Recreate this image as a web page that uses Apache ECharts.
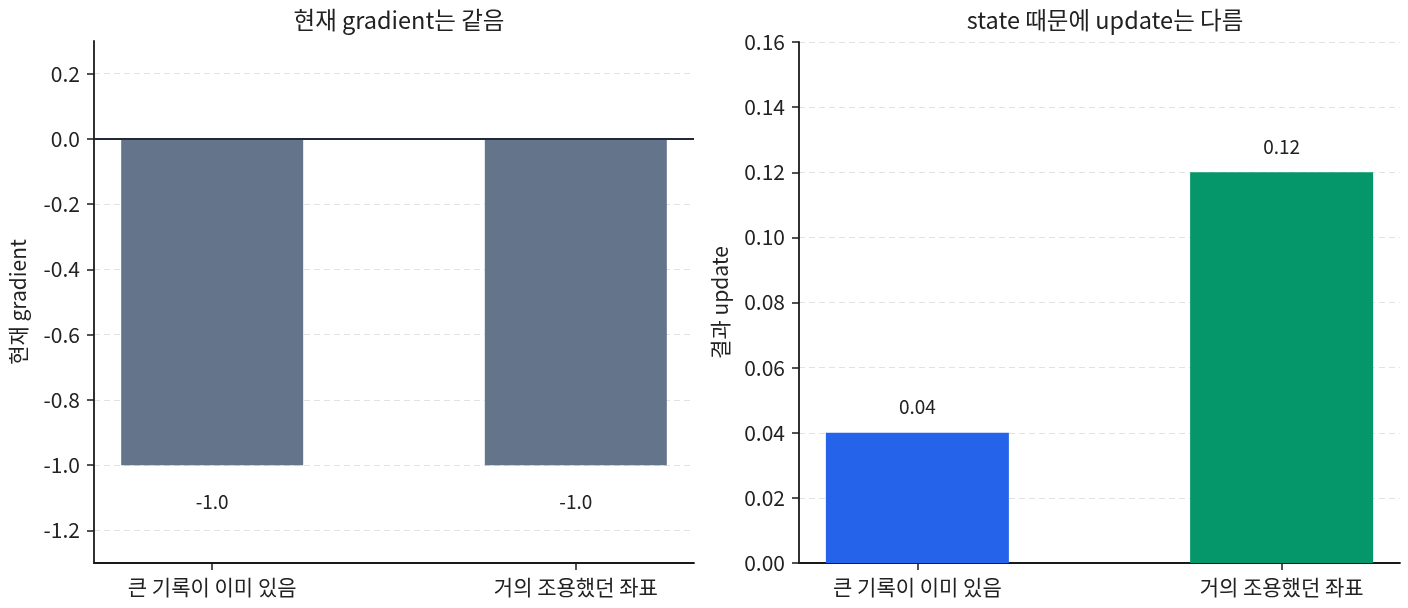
<!DOCTYPE html>
<html>
<head>
<meta charset="utf-8">
<script src="https://cdn.jsdelivr.net/npm/echarts@6/dist/echarts.min.js"></script>
<style>
  html, body { margin: 0; padding: 0; background: #fff; }
  #main { width: 1408px; height: 608px; }
</style>
</head>
<body>
<div id="main"></div>
<script>
const categories = ['큰 기록이 이미 있음', '거의 조용했던 좌표']
const gradientValues = [-1.0, -1.0]
const updateValues = [0.04, 0.12]
const gradientTicks = [-1.2, -1.0, -0.8, -0.6, -0.4, -0.2, 0.0, 0.2]
const barColors = ['#2563eb', '#059669']

const font = 'Noto Sans CJK KR'
const axisColor = '#1a1a1a'
const catPositions = categories.map(function (c, i) { return i })

const myChart = echarts.init(document.getElementById('main'))

// x axis is numeric so the category spacing matches the reference margins
const xAxisBase = function (gridIndex) {
    return {
        type: 'value',
        gridIndex: gridIndex,
        min: -0.325,
        max: 1.325,
        axisLine: { onZero: false, lineStyle: { color: axisColor, width: 1.8 } },
        axisTick: { show: true, length: 7, customValues: catPositions, lineStyle: { color: axisColor, width: 1.5 } },
        axisLabel: {
            customValues: catPositions,
            color: '#222', fontSize: 21, fontFamily: font, margin: 14,
            formatter: function (v) { return categories[Math.round(v)] }
        },
        splitLine: { show: false }
    }
}

const splitLineStyle = { show: true, lineStyle: { color: '#e2e2e2', type: [6, 4], width: 1 } }

const toPoints = function (values) {
    return values.map(function (v, i) { return [i, v] })
}

myChart.setOption({
    animation: false,
    textStyle: { fontFamily: font },
    title: [
        { text: '현재 gradient는 같음', left: 394, top: 3, textAlign: 'center',
          textStyle: { fontSize: 23.5, fontWeight: 'normal', color: '#222', fontFamily: font } },
        { text: 'state 때문에 update는 다름', left: 1100, top: 3, textAlign: 'center',
          textStyle: { fontSize: 23.5, fontWeight: 'normal', color: '#222', fontFamily: font } }
    ],
    grid: [
        { left: 94, top: 41, width: 600, height: 522 },
        { left: 799, top: 42, width: 601, height: 521 }
    ],
    xAxis: [xAxisBase(0), xAxisBase(1)],
    yAxis: [
        {
            type: 'value',
            gridIndex: 0,
            min: -1.3,
            max: 0.3,
            name: '현재 gradient',
            nameLocation: 'middle',
            nameGap: 65,
            nameTextStyle: { fontSize: 21, color: '#222', fontFamily: font },
            axisLine: { show: true, onZero: false, lineStyle: { color: axisColor, width: 1.8 } },
            axisTick: { show: true, length: 7, customValues: gradientTicks, lineStyle: { color: axisColor, width: 1.5 } },
            axisLabel: {
                customValues: gradientTicks,
                color: '#222', fontSize: 21, fontFamily: font, margin: 14,
                formatter: function (v) { return v.toFixed(1) }
            },
            splitLine: splitLineStyle
        },
        {
            type: 'value',
            gridIndex: 1,
            min: 0,
            max: 0.16,
            interval: 0.02,
            name: '결과 update',
            nameLocation: 'middle',
            nameGap: 68,
            nameTextStyle: { fontSize: 21, color: '#222', fontFamily: font },
            axisLine: { show: true, onZero: false, lineStyle: { color: axisColor, width: 1.8 } },
            axisTick: { show: true, length: 7, lineStyle: { color: axisColor, width: 1.5 } },
            axisLabel: {
                color: '#222', fontSize: 21, fontFamily: font, margin: 14,
                formatter: function (v) { return v.toFixed(2) }
            },
            splitLine: splitLineStyle
        }
    ],
    series: [
        {
            type: 'bar',
            xAxisIndex: 0,
            yAxisIndex: 0,
            barWidth: 182,
            data: toPoints(gradientValues),
            itemStyle: { color: '#64748b' },
            label: {
                show: true, position: 'bottom', distance: 27,
                fontSize: 19, color: '#222', fontFamily: font,
                formatter: function (p) { return p.value[1].toFixed(1) }
            },
            markLine: {
                silent: true,
                symbol: 'none',
                label: { show: false },
                lineStyle: { color: '#1f2937', type: 'solid', width: 1.8 },
                data: [{ yAxis: 0 }]
            }
        },
        {
            type: 'bar',
            xAxisIndex: 1,
            yAxisIndex: 1,
            barWidth: 183,
            data: toPoints(updateValues).map(function (p, i) {
                return { value: p, itemStyle: { color: barColors[i] } }
            }),
            label: {
                show: true, position: 'top', distance: 16,
                fontSize: 19, color: '#222', fontFamily: font,
                formatter: function (p) { return p.value[1].toFixed(2) }
            }
        }
    ]
})
</script>
</body>
</html>
